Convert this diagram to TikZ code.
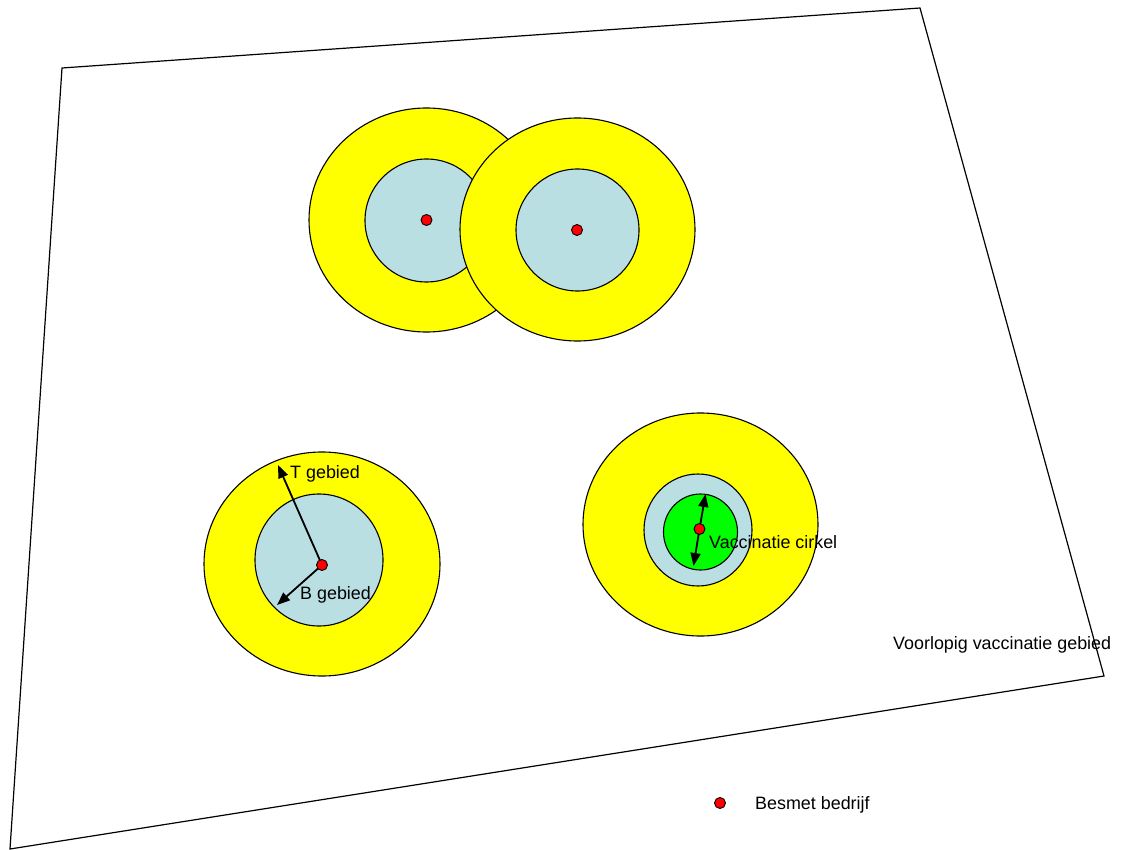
\documentclass[tikz,border=0pt]{standalone}
\usepackage{fontspec}
\setmainfont{Liberation Sans}
\usetikzlibrary{shapes.geometric,arrows.meta}
\definecolor{zoneT}{RGB}{255,255,0}
\definecolor{zoneB}{RGB}{186,223,227}
\definecolor{zoneV}{RGB}{0,255,0}
\definecolor{farm}{RGB}{255,0,0}
\tikzset{
  ring/.style={ellipse, draw=black, line width=1.1pt, inner sep=0pt},
  tzone/.style={ring, fill=zoneT},
  bzone/.style={ring, fill=zoneB},
  vzone/.style={ring, fill=zoneV},
  farmdot/.style={circle, draw=black, line width=0.9pt, fill=farm, inner sep=0pt, minimum size=11pt},
  lbl/.style={anchor=base west, inner sep=0pt, font=\fontsize{17.9}{20}\selectfont},
  radarrow/.style={line width=1.8pt, -{Triangle[length=13pt,width=10pt]}},
  border/.style={draw=black, line width=1.2pt}
}
\begin{document}
\begin{tikzpicture}[x=1pt,y=-1pt]
\useasboundingbox (0,0) rectangle (1129,850);
% outer area
\coordinate (q1) at (62,68);
\coordinate (q2) at (920,8);
\coordinate (q3) at (1104,676);
\coordinate (q4) at (10,849);
\draw[border] (q1) -- (q2) -- (q3) -- (q4) -- cycle;

% top left
\node[tzone, minimum width=235pt, minimum height=224pt] (t1) at (426.5,220) {};
\node[bzone, minimum width=123pt, minimum height=123pt] (b1) at (426.5,220.5) {};
\node[farmdot] (f1) at (426.5,220) {};
% top right
\node[tzone, minimum width=235pt, minimum height=223pt] (t2) at (577.5,229.5) {};
\node[bzone, minimum width=123pt, minimum height=122pt] (b2) at (577.5,230) {};
\node[farmdot] (f2) at (577,230) {};

% bottom left
\node[tzone, minimum width=236pt, minimum height=224pt] (t3) at (322,564) {};
\node[bzone, minimum width=128pt, minimum height=132pt] (b3) at (319,560) {};
\coordinate (c3) at (322,565);
\coordinate (tt) at (278,465);
\coordinate (bt) at (277,605);
\draw[radarrow] (c3) -- (tt);
\draw[radarrow] (c3) -- (bt);
\node[farmdot] (f3) at (c3) {};
\node[lbl] (tl) at (290,478) {T gebied};
\node[lbl] (bl) at (300,599) {B gebied};

% bottom right
\node[tzone, minimum width=235pt, minimum height=223pt] (t4) at (700.5,524.5) {};
\node[bzone, minimum width=108pt, minimum height=112pt] (b4) at (698,530) {};
\node[vzone, minimum width=74pt, minimum height=76pt] (v4) at (700.5,532) {};
\coordinate (c4) at (699.5,529);
\coordinate (vu) at (705.5,494);
\coordinate (vd) at (693.5,566);
\draw[radarrow] (c4) -- (vu);
\draw[radarrow] (c4) -- (vd);
\node[farmdot] (f4) at (c4) {};
\node[lbl] (vl) at (709,548) {Vaccinatie cirkel};

% area label
\node[lbl] (al) at (893,649) {Voorlopig vaccinatie gebied};

% legend
\node[farmdot] (lg) at (720,803) {};
\node[lbl] (lt) at (755,809) {Besmet bedrijf};
\end{tikzpicture}
\end{document}
